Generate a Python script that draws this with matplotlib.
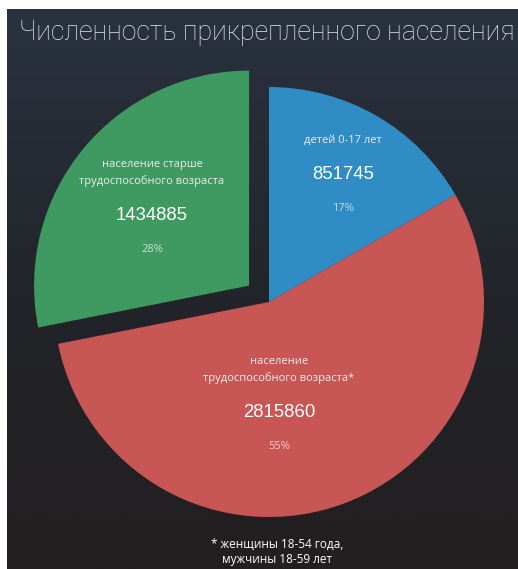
import numpy as np
import matplotlib.pyplot as plt
from matplotlib.colors import LinearSegmentedColormap

title = "Численность прикрепленного населения"
names = ["детей 0-17 лет",
         "население\nтрудоспособного возраста*",
         "население старше\nтрудоспособного возраста"]
values = [851745, 2815860, 1434885]
percents = ["17%", "55%", "28%"]
colors = ["#2f8cc4", "#c85654", "#3e9a60"]
explode = [0, 0, 0.12]
footnote = ["* женщины 18-54 года,", "мужчины 18-59 лет"]

# label anchors (centre of the big number), in pie radius units
label_pos = [(0.344, 0.591), (0.047, -0.516), (-0.544, 0.40)]


def main():
    W, H = 518, 569
    fig = plt.figure(figsize=(W / 100, H / 100), dpi=100, facecolor="white")

    # dark gradient panel
    bg = fig.add_axes([7 / W, 0, (W - 7) / W, (H - 9) / H])
    bg.axis("off")
    cmap = LinearSegmentedColormap.from_list(
        "bg", [(0, "#29323f"), (0.55, "#222429"), (1, "#221f20")])
    grad = np.linspace(0, 1, 256).reshape(-1, 1)
    bg.imshow(grad, cmap=cmap, aspect="auto", extent=[0, 1, 0, 1], origin="upper")

    # pie axes: centre (269, 302) px from top-left, radius 215 px
    R = 215
    L = 1.3
    cx, cy = 269, H - 302
    size = 2 * L * R
    ax = fig.add_axes([(cx - size / 2) / W, (cy - size / 2) / H, size / W, size / H])
    ax.pie(values, colors=colors, explode=explode, startangle=90, counterclock=False,
           radius=1, wedgeprops=dict(linewidth=0), frame=False)
    ax.set_xlim(-L, L)
    ax.set_ylim(-L, L)
    ax.set_aspect("equal")
    ax.axis("off")
    ax.patch.set_alpha(0)

    pt = 0.72  # px -> points
    for name, val, pct, (x, y) in zip(names, values, percents, label_pos):
        lines = name.split("\n")
        for k, line in enumerate(reversed(lines)):
            ax.annotate(line, xy=(x, y), xytext=(0, (35 + 16 * k) * pt),
                        textcoords="offset points", ha="center", va="center",
                        fontsize=8, family="Open Sans", color="#ececec")
        ax.annotate(str(val), xy=(x, y), ha="center", va="center",
                    fontsize=13.4, family="Liberation Sans", color="white")
        ax.annotate(pct, xy=(x, y), xytext=(0, -34 * pt), textcoords="offset points",
                    ha="center", va="center", fontsize=8, family="Open Sans",
                    color="white", alpha=0.7)

    fig.text(267 / W, 1 - 33 / H, title, ha="center", va="center", fontsize=19.3,
             family="Roboto", fontweight=100, color="#e3e8ee")

    fig.text(277 / W, 1 - 544 / H, footnote[0], ha="center", va="center",
             fontsize=8.5, family="Open Sans", color="white")
    fig.text(277 / W, 1 - 560 / H, footnote[1], ha="center", va="center",
             fontsize=8.5, family="Open Sans", color="white")

    fig.savefig("out.png", dpi=100, facecolor=fig.get_facecolor())


if __name__ == "__main__":
    main()
